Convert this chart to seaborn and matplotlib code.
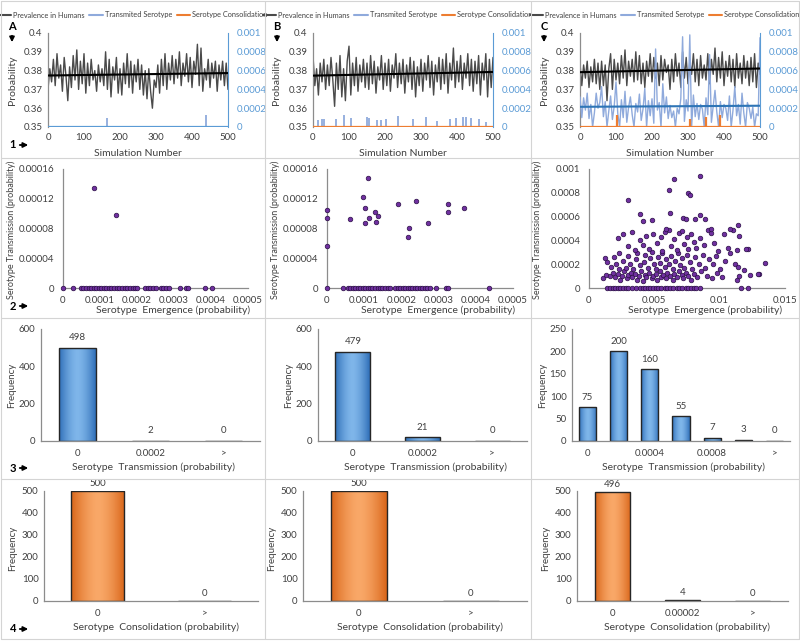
import numpy as np
import matplotlib
matplotlib.use('Agg')
import matplotlib.pyplot as plt
import seaborn as sns
from matplotlib.lines import Line2D
from matplotlib.patches import FancyArrowPatch
from matplotlib.colors import to_rgb
from matplotlib.ticker import FuncFormatter

# ---- data ----
sims = np.arange(0, 501, 5)

prev_a = [0.370, 0.381, 0.374, 0.386, 0.372, 0.389, 0.376, 0.383, 0.369, 0.387, 0.377,
          0.364, 0.382, 0.371, 0.388, 0.375, 0.391, 0.370, 0.385, 0.373, 0.389,
          0.368, 0.384, 0.372, 0.386, 0.375, 0.380, 0.369, 0.383, 0.374, 0.381,
          0.372, 0.390, 0.370, 0.386, 0.366, 0.382, 0.375, 0.387, 0.368, 0.381,
          0.367, 0.384, 0.373, 0.389, 0.371, 0.385, 0.368, 0.383, 0.374, 0.386,
          0.370, 0.383, 0.367, 0.380, 0.365, 0.381, 0.369, 0.360, 0.375, 0.371,
          0.383, 0.368, 0.386, 0.372, 0.389, 0.370, 0.384, 0.375, 0.388, 0.373,
          0.386, 0.376, 0.390, 0.372, 0.384, 0.377, 0.389, 0.374, 0.387, 0.371,
          0.385, 0.378, 0.394, 0.372, 0.392, 0.369, 0.381, 0.375, 0.386, 0.371,
          0.384, 0.376, 0.385, 0.369, 0.383, 0.375, 0.385, 0.372, 0.384, 0.370]

prev_b = [0.388, 0.372, 0.381, 0.367, 0.384, 0.374, 0.386, 0.370, 0.383, 0.372, 0.387,
          0.375, 0.361, 0.384, 0.370, 0.388, 0.366, 0.381, 0.364, 0.385, 0.393,
          0.367, 0.384, 0.372, 0.387, 0.369, 0.383, 0.374, 0.386, 0.371, 0.384,
          0.370, 0.388, 0.373, 0.385, 0.368, 0.382, 0.375, 0.388, 0.370, 0.384,
          0.372, 0.386, 0.369, 0.383, 0.376, 0.389, 0.371, 0.384, 0.373, 0.386,
          0.368, 0.383, 0.374, 0.387, 0.370, 0.385, 0.366, 0.382, 0.372, 0.386,
          0.369, 0.384, 0.375, 0.388, 0.371, 0.385, 0.367, 0.383, 0.374, 0.387,
          0.370, 0.386, 0.373, 0.389, 0.368, 0.384, 0.375, 0.392, 0.371, 0.385,
          0.374, 0.388, 0.370, 0.384, 0.376, 0.389, 0.372, 0.386, 0.369, 0.385,
          0.373, 0.388, 0.367, 0.384, 0.375, 0.389, 0.366, 0.386, 0.371, 0.387]

prev_c = [0.384, 0.372, 0.383, 0.376, 0.385, 0.371, 0.382, 0.374, 0.386, 0.373, 0.384,
          0.370, 0.385, 0.372, 0.383, 0.364, 0.381, 0.389, 0.370, 0.386, 0.375,
          0.384, 0.373, 0.388, 0.376, 0.391, 0.372, 0.385, 0.377, 0.386, 0.374,
          0.390, 0.375, 0.388, 0.373, 0.384, 0.371, 0.385, 0.377, 0.389, 0.374,
          0.387, 0.376, 0.384, 0.372, 0.388, 0.375, 0.386, 0.379, 0.383, 0.370,
          0.386, 0.374, 0.389, 0.377, 0.384, 0.371, 0.390, 0.376, 0.387, 0.373,
          0.385, 0.378, 0.389, 0.374, 0.386, 0.372, 0.388, 0.376, 0.383, 0.375,
          0.389, 0.373, 0.386, 0.378, 0.392, 0.374, 0.387, 0.376, 0.390, 0.372,
          0.385, 0.377, 0.388, 0.374, 0.386, 0.371, 0.389, 0.376, 0.384, 0.373,
          0.388, 0.376, 0.385, 0.372, 0.387, 0.374, 0.389, 0.371, 0.384, 0.378]

# transmitted serotype spikes (A, B) and full series (C, in units of 1e-4)
trans_a_sims = [165, 440]
trans_a_vals = [0.00010, 0.00013]
trans_b_sims = [14, 25, 31, 63, 85, 105, 151, 156, 177, 188, 204, 236, 279, 313,
                344, 380, 398, 417, 424, 440, 461, 481]
trans_b_vals = [0.000079, 0.000082, 0.000082, 0.000082, 0.000132, 0.000093, 0.000107,
                0.000100, 0.000071, 0.000071, 0.000089, 0.000114, 0.000089, 0.000107,
                0.000061, 0.000082, 0.000096, 0.000104, 0.000104, 0.000100, 0.000086,
                0.000050]
trans_c_e4 = [3.2, 1.0, 3.1, 1.8, 3.6, 0.9, 2.4, 0, 1.5, 3.6, 2.0,
              2.6, 4.3, 1.1, 2.7, 0, 1.7, 3.3, 0.8, 2.2, 4.8,
              1.4, 0, 2.9, 1.0, 3.8, 0.5, 2.1, 3.2, 1.3, 0,
              2.5, 1.6, 3.5, 0.7, 1.9, 4.1, 0, 2.8, 1.2, 3.0,
              0.4, 8.3, 1.8, 2.6, 0, 4.6, 1.5, 3.2, 0.9, 2.3,
              1.0, 1.7, 0, 2.0, 1.4, 3.0, 9.6, 0.6, 2.9, 1.7,
              9.8, 0, 3.4, 1.1, 2.5, 0.8, 2.4, 1.9, 0, 3.1,
              1.3, 7.7, 0.5, 2.2, 3.9, 1.6, 0, 2.7, 1.0, 2.4,
              2.0, 0.7, 3.3, 0, 1.8, 4.3, 1.2, 2.4, 0.3, 3.6,
              1.5, 0, 2.6, 2.0, 0.9, 2.1, 0, 1.4, 1.2, 9.5]
cons_c_sims = [104, 306, 350, 390]
cons_c_vals = [0.000127, 0.000080, 0.000106, 0.000127]

# scatter: emergence vs transmission
emerg_a_pos = [0.0000826, 0.000142]
trans_a_pos = [0.000135, 0.0000975]
emerg_a_zero = [0, 0.26, 0.49, 0.55, 0.61, 0.69, 0.75, 0.83, 0.90, 0.96, 1.03, 1.10, 1.17,
                1.24, 1.31, 1.38, 1.45, 1.52, 1.60, 1.67, 1.74, 1.82, 1.88, 1.95, 2.00,
                2.22, 2.29, 2.36, 2.43, 2.50, 2.64, 2.71, 2.78, 2.87, 3.17, 3.32, 3.37,
                3.83, 4.02]  # x 1e-4

emerg_b_pos = [0, 0, 0, 0.625, 1.03, 1.09, 0.96, 1.03, 1.12, 1.29, 1.32, 1.37, 1.92,
               2.17, 2.21, 2.38, 2.72, 3.26, 3.26, 3.68]  # x 1e-4
trans_b_pos = [1.043, 0.939, 0.571, 0.930, 1.079, 1.474, 1.227, 0.876, 0.944, 1.016,
               0.894, 0.971, 1.124, 0.683, 0.809, 1.164, 0.876, 1.128, 1.016, 1.070]  # x 1e-4
emerg_b_zero = [0, 0.42, 0.56, 0.63, 0.69, 0.76, 0.83, 0.89, 0.96, 1.03, 1.10, 1.16, 1.22,
                1.29, 1.37, 1.43, 1.49, 1.56, 1.63, 1.70, 1.83, 1.90, 1.96, 2.03, 2.10,
                2.17, 2.23, 2.29, 2.37, 2.43, 2.50, 2.56, 2.63, 2.70, 2.77, 2.92, 3.21,
                3.24, 4.35]  # x 1e-4

emerg_c_pos = [1.1, 1.3, 1.6, 1.8, 2.0, 2.2, 2.4, 2.5, 2.7, 2.9, 3.0, 3.2, 3.3, 3.5, 3.7, 3.8,
               4.0, 4.1, 4.3, 4.4, 4.6, 4.8, 4.9, 5.1, 5.2, 5.4, 5.5, 5.7, 5.9, 6.0, 6.2, 6.4,
               6.5, 6.7, 6.9, 7.1, 7.2, 7.4, 7.6, 7.8, 8.0, 8.3, 8.6, 9.0, 9.4, 9.8, 10.2,
               11.3, 11.5, 12.3, 13.0,
               1.2, 1.4, 1.7, 1.9, 2.1, 2.3, 2.3, 2.6, 2.8, 3.0, 3.1, 3.4, 3.6, 3.7, 3.9, 4.2,
               4.3, 4.5, 4.7, 4.8, 5.0, 5.1, 5.3, 5.4, 5.6, 5.8, 5.9, 6.1, 6.3, 6.4, 6.6, 6.8,
               7.0, 7.1, 7.3, 7.5, 7.7, 7.9, 8.1, 8.4, 8.7, 8.9, 9.2, 9.5, 9.7, 10.0, 10.4,
               10.8, 11.2, 11.4, 11.9, 12.2, 12.9, 13.5,
               2.2, 2.6, 3.0, 3.3, 3.5, 3.9, 4.1, 4.4, 4.6, 4.9, 5.2, 5.5, 5.6, 5.8, 6.1, 6.3,
               6.5, 6.7, 6.9, 7.1, 7.3, 7.5, 7.6, 7.8, 8.0, 8.2, 8.5, 8.8, 9.1, 9.3, 9.6, 9.9,
               10.3, 10.6, 11.0, 11.3, 11.4, 11.5, 12.0,
               3.0, 3.9, 4.1, 4.8, 5.9, 6.1, 6.2, 6.5, 7.2, 7.4, 7.6, 7.7, 8.1, 8.5, 8.5, 8.9,
               9.3, 10.8]  # x 1e-3
trans_c_pos = [0.8, 1.1, 1.0, 1.3, 0.9, 1.2, 0.7, 1.0, 1.4, 0.8, 1.1, 1.3, 0.9, 1.2, 0.7, 1.0,
               1.4, 0.6, 1.1, 0.9, 1.3, 0.8, 1.0, 1.2, 0.7, 1.4, 0.9, 1.1, 0.8, 1.3, 1.0, 0.7,
               1.2, 0.9, 1.4, 1.1, 0.8, 1.3, 1.0, 0.7, 1.2, 0.9, 1.4, 1.0, 0.8, 1.3, 0.9,
               0.7, 1.0, 1.1, 1.2,
               2.5, 2.2, 1.8, 2.6, 2.0, 1.6, 2.9, 2.3, 1.7, 2.7, 2.0, 1.6, 2.4, 2.9, 1.9, 2.2,
               2.8, 1.7, 2.5, 3.0, 2.0, 1.6, 2.6, 2.1, 2.9, 1.8, 2.4, 2.0, 2.7, 1.6, 2.3, 2.9,
               1.9, 2.5, 1.7, 2.8, 2.2, 1.6, 2.6, 2.0, 2.8, 1.7, 2.4, 2.0, 2.7, 1.6, 2.3,
               2.9, 2.0, 1.8, 1.5, 3.3, 1.2, 2.1,
               4.2, 4.5, 3.5, 4.7, 3.2, 4.0, 3.6, 4.4, 3.3, 4.5, 3.8, 4.3, 3.1, 4.7, 4.9, 3.5,
               4.1, 3.2, 4.6, 4.8, 3.7, 4.3, 3.3, 4.5, 3.9, 3.4, 4.2, 3.6, 4.9, 4.6, 3.8, 3.1,
               4.5, 3.4, 4.9, 3.2, 5.3, 4.4, 3.3,
               7.4, 6.2, 5.6, 5.7, 5.0, 8.2, 6.3, 9.2, 5.9, 5.8, 8.0, 7.8, 5.8, 9.4, 6.1, 5.8,
               5.0, 5.0]  # x 1e-4
emerg_c_zero = [1.4, 1.6, 1.8, 2.0, 2.2, 2.4, 2.6, 2.8, 3.0, 3.3, 3.6, 3.9, 4.1, 4.3, 4.5,
                4.7, 4.9, 5.1, 5.3, 5.5, 5.8, 6.0, 6.2, 6.4, 6.7, 6.9, 7.1, 7.4, 7.6, 7.8,
                8.0, 8.2, 8.5, 11.6, 12.2]  # x 1e-3

# histograms
trans_bins_a = ['0', '0.0002', '>']
trans_freq_a = [498, 2, 0]
trans_bins_b = ['0', '0.0002', '>']
trans_freq_b = [479, 21, 0]
trans_bins_c = ['0', '0.0002', '0.0004', '0.0006', '0.0008', '0.001', '>']
trans_freq_c = [75, 200, 160, 55, 7, 3, 0]
cons_bins_a = ['0', '>']
cons_freq_a = [500, 0]
cons_bins_b = ['0', '>']
cons_freq_b = [500, 0]
cons_bins_c = ['0', '0.00002', '>']
cons_freq_c = [496, 4, 0]

# ---- figure ----
sns.set_style('white')
plt.rcParams['font.family'] = ['Lato', 'DejaVu Sans']

W, H = 800, 641
fig = plt.figure(figsize=(W / 100, H / 100), dpi=100)

GRAY = '#404040'
LBLUE = '#8FAADC'
BLUE = '#5B9BD5'
ORANGE = '#ED7D31'
fmt = FuncFormatter(lambda v, p: f'{v:.6f}'.rstrip('0').rstrip('.'))


def px_axes(l, t, r, b):
    return fig.add_axes([l / W, 1 - b / H, (r - l) / W, (b - t) / H])


def ftext(x, y, s, **kw):
    kw.setdefault('fontsize', 7.5)
    kw.setdefault('color', GRAY)
    fig.text(x / W, 1 - y / H, s, ha='center', va='center', **kw)


def arrow(x1, y1, x2, y2):
    fig.add_artist(FancyArrowPatch((x1 / W, 1 - y1 / H), (x2 / W, 1 - y2 / H),
                                   transform=fig.transFigure, arrowstyle='-|>',
                                   mutation_scale=7, lw=1.3, color='black'))


def style(ax):
    for s in ['top', 'right']:
        ax.spines[s].set_visible(False)
    for s in ['left', 'bottom']:
        ax.spines[s].set_color('#8c8c8c')
        ax.spines[s].set_linewidth(0.9)
    ax.tick_params(length=0, labelsize=7, labelcolor=GRAY, pad=4)
    ax.set_xlabel('')
    ax.set_ylabel('')


def shade_bars(ax, dark, light):
    # Excel-like cylinder shading: darker sides, lighter middle
    t = 1 - np.abs(np.linspace(-1, 1, 64)) ** 1.6
    d, lt = np.array(to_rgb(dark)), np.array(to_rgb(light))
    img = (d + (lt - d) * t[:, None])[None, :, :]
    xl, yl = ax.get_xlim(), ax.get_ylim()
    for p in ax.containers[0]:
        if p.get_height() <= 0:
            continue
        im = ax.imshow(img, extent=[p.get_x(), p.get_x() + p.get_width(), 0, p.get_height()],
                       aspect='auto', zorder=1.5, interpolation='bilinear')
        im.set_clip_path(p)
        p.set_facecolor('none')
        p.set_zorder(2)
    ax.set_xlim(xl)
    ax.set_ylim(yl)


# cell borders
for y in [1, 158, 318, 479, 639]:
    fig.add_artist(Line2D([1 / W, 799 / W], [1 - y / H, 1 - y / H], color='#d4d4d4', lw=0.8))
for x in [1, 265, 531, 799]:
    fig.add_artist(Line2D([x / W, x / W], [1 - 1 / H, 1 - 639 / H], color='#d4d4d4', lw=0.8))

# ---- row 1: time series ----
row1 = [
    (48, 'A', prev_a, trans_a_sims, trans_a_vals, None, [], [], BLUE),
    (313, 'B', prev_b, trans_b_sims, trans_b_vals, None, [], [], ORANGE),
    (580, 'C', prev_c, None, None, np.array(trans_c_e4) * 1e-4, cons_c_sims, cons_c_vals, ORANGE),
]
for l, letter, prev, tx, ty, tfull, cx, cy, base in row1:
    ax = px_axes(l, 33, l + 180, 127)
    sns.lineplot(x=sims, y=prev, ax=ax, color='#4a4a4a', lw=1.0)
    ax.set_xlim(0, 500)
    ax.set_ylim(0.35, 0.4)
    ax.set_xticks(range(0, 501, 100))
    ax.set_yticks(np.linspace(0.35, 0.4, 6))
    ax.yaxis.set_major_formatter(fmt)
    style(ax)
    ax.spines['bottom'].set_visible(False)

    ax2 = ax.twinx()
    if tfull is not None:
        sns.lineplot(x=sims, y=tfull, ax=ax2, color=LBLUE, lw=1.0)
        sns.regplot(x=sims, y=tfull, ax=ax2, scatter=False, ci=None,
                    line_kws=dict(color='#2E75B6', lw=1.5))
    else:
        ax2.vlines(tx, 0, ty, color=LBLUE, lw=1.3)
    if cx:
        ax2.vlines(cx, 0, cy, color=ORANGE, lw=1.6)
    ax2.axhline(0, color=base, lw=1.6)
    ax2.set_ylim(0, 0.001)
    ax2.set_yticks(np.linspace(0, 0.001, 6))
    ax2.yaxis.set_major_formatter(fmt)
    ax2.set_xlabel('')
    ax2.set_ylabel('')
    for s in ['top', 'left', 'bottom']:
        ax2.spines[s].set_visible(False)
    ax2.spines['right'].set_color(BLUE)
    ax2.tick_params(length=0, labelsize=7, labelcolor=BLUE, pad=6)

    ax3 = ax.twinx()
    sns.regplot(x=sims, y=prev, ax=ax3, scatter=False, ci=None,
                line_kws=dict(color='black', lw=1.5))
    ax3.set_ylim(0.35, 0.4)
    ax3.axis('off')

    handles = [Line2D([], [], color='#4a4a4a', lw=1.5), Line2D([], [], color=LBLUE, lw=1.5),
               Line2D([], [], color=ORANGE, lw=1.5)]
    ax3.legend(handles, ['Prevalence in Humans', 'Transmited Serotype', 'Serotype Consolidation'],
               loc='center', bbox_to_anchor=(0.47, 1 + 18 / 94), ncol=3, frameon=False,
               fontsize=5.3, handlelength=1.8, columnspacing=0.6, handletextpad=0.3,
               borderpad=0.1, labelcolor=GRAY)

    ftext(l - 36, 80, 'Probability', rotation=90)
    ftext(l + 90, 153, 'Simulation Number')
    ftext(l - 36, 27, letter, fontweight='bold', color='black', fontsize=8)
    arrow(l - 36, 33, l - 36, 45)

# ---- row 2: scatter ----
row2 = [
    (63, 248, np.array(emerg_a_pos), np.array(trans_a_pos), np.array(emerg_a_zero) * 1e-4,
     0.0005, 0.00016, 5),
    (327, 513, np.array(emerg_b_pos) * 1e-4, np.array(trans_b_pos) * 1e-4,
     np.array(emerg_b_zero) * 1e-4, 0.0005, 0.00016, 5),
    (589, 785, np.array(emerg_c_pos) * 1e-3, np.array(trans_c_pos) * 1e-4,
     np.array(emerg_c_zero) * 1e-3, 0.015, 0.001, 6),
]
for l, r, ex, ty, ez, xmax, ymax, ny in row2:
    ax = px_axes(l, 169, r, 288)
    x = np.concatenate([ex, ez])
    y = np.concatenate([ty, np.zeros(len(ez))])
    sns.scatterplot(x=x, y=y, ax=ax, color='#7030A0', edgecolor='#2a0f45', s=11,
                    linewidth=0.5, clip_on=False, zorder=3)
    ax.set_xlim(0, xmax)
    ax.set_ylim(0, ymax)
    ax.set_xticks(np.linspace(0, xmax, 6 if xmax < 0.001 else 4))
    ax.set_yticks(np.linspace(0, ymax, ny))
    ax.xaxis.set_major_formatter(fmt)
    ax.yaxis.set_major_formatter(fmt)
    style(ax)
    ax.tick_params(axis='x', pad=6)
    ax.tick_params(axis='y', pad=6)
    c = (l - 63) + 11
    ftext(c, 230, 'Serotype Transmission (probability)', rotation=90, fontsize=6.5)
    ftext((l + r) / 2 + 18, 310, 'Serotype  Emergence (probability)')

# ---- row 3: transmission histograms ----
row3 = [
    (41, 260, trans_bins_a, trans_freq_a, 600, 200, 0.5),
    (318, 527, trans_bins_b, trans_freq_b, 600, 200, 0.5),
    (572, 790, trans_bins_c, trans_freq_c, 250, 50, 0.55),
]
for l, r, bins, freq, ymax, step, w in row3:
    ax = px_axes(l, 329, r, 441)
    sns.barplot(x=bins, y=freq, ax=ax, color=BLUE, width=w, edgecolor='#262626',
                linewidth=1.0, saturation=1)
    ax.bar_label(ax.containers[0], labels=[str(f) for f in freq], fontsize=7,
                 padding=4, color=GRAY)
    ax.set_ylim(0, ymax)
    ax.set_yticks(range(0, ymax + 1, step))
    ax.set_xticks(range(len(bins)))
    ax.set_xticklabels([b if i % 2 == 0 or len(bins) < 4 else '' for i, b in enumerate(bins)])
    style(ax)
    shade_bars(ax, '#2f6fb8', '#7fb6ea')
    ax.tick_params(axis='x', pad=6)
    ftext(l - 29, 385, 'Frequency', rotation=90, fontsize=7)
    ftext((l + r) / 2 + 3, 467, 'Serotype  Transmission (probability)')

# ---- row 4: consolidation histograms ----
row4 = [
    (44, 258, cons_bins_a, cons_freq_a),
    (303, 527, cons_bins_b, cons_freq_b),
    (577, 788, cons_bins_c, cons_freq_c),
]
for l, r, bins, freq in row4:
    ax = px_axes(l, 491, r, 601)
    sns.barplot(x=bins, y=freq, ax=ax, color=ORANGE, width=0.5, edgecolor='#262626',
                linewidth=1.0, saturation=1)
    ax.bar_label(ax.containers[0], labels=[str(f) for f in freq], fontsize=7,
                 padding=2, color=GRAY)
    ax.set_ylim(0, 500)
    ax.set_yticks(range(0, 501, 100))
    style(ax)
    shade_bars(ax, '#d9661a', '#f9a868')
    ax.tick_params(axis='x', pad=6)
    ftext(l - 31, 548, 'Frequency', rotation=90, fontsize=7)
    ftext((l + r) / 2 + 5, 627, 'Serotype  Consolidation (probability)')

# row markers
for y, s in [(145, '1'), (306, '2'), (468, '3'), (629, '4')]:
    ftext(13, y, s, fontweight='bold', color='black', fontsize=8)
    arrow(17, y, 31, y)

fig.savefig('out.png', dpi=100)
